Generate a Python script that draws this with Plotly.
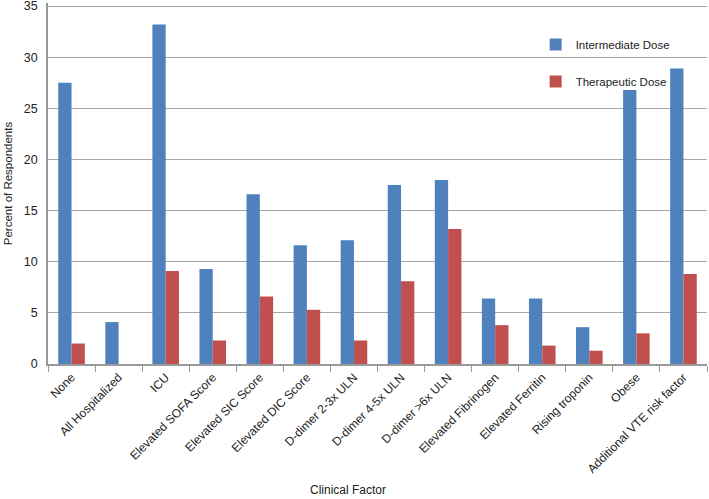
import plotly.graph_objects as go

categories = ["None", "All Hospitalized", "ICU", "Elevated SOFA Score", "Elevated SIC Score",
              "Elevated DIC Score", "D-dimer 2-3x ULN", "D-dimer 4-5x ULN", "D-dimer >6x ULN",
              "Elevated Fibrinogen", "Elevated Ferritin", "Rising troponin", "Obese",
              "Additional VTE risk factor"]
intermediate = [27.5, 4.1, 33.2, 9.3, 16.6, 11.6, 12.1, 17.5, 18.0, 6.4, 6.4, 3.6, 26.8, 28.9]
therapeutic = [2.0, 0.0, 9.1, 2.3, 6.6, 5.3, 2.3, 8.1, 13.2, 3.8, 1.8, 1.3, 3.0, 8.8]
y_ticks = [0, 5, 10, 15, 20, 25, 30, 35]

fig = go.Figure()
fig.add_trace(go.Bar(x=categories, y=intermediate, name="Intermediate Dose",
                     marker=dict(color="#4F81BD", line=dict(width=0)), legendgroup="a"))
fig.add_trace(go.Bar(x=categories, y=therapeutic, name="Therapeutic Dose",
                     marker=dict(color="#C0504D", line=dict(width=0)), legendgroup="b"))

fig.update_layout(
    width=709, height=499,
    margin=dict(l=48, r=2, t=3, b=135),
    paper_bgcolor="white", plot_bgcolor="white",
    font=dict(family="Liberation Sans, Arial, sans-serif", color="#222", size=12),
    barmode="group", bargap=0.435, bargroupgap=0,
    showlegend=True,
    legend=dict(x=0.740, y=0.925, xanchor="left", yanchor="top",
                font=dict(size=11.5), tracegroupgap=18, bgcolor="rgba(0,0,0,0)",
                itemwidth=30),
    xaxis=dict(showline=True, linecolor="#999", linewidth=1.5, automargin=False,
               ticks="outside", tickson="boundaries", ticklen=6, tickcolor="#999",
               tickangle=-45, tickfont=dict(size=12),
               showgrid=False),
    yaxis=dict(range=[0, 35.3], tickvals=y_ticks, showline=True, linecolor="#999", linewidth=1.5,
               automargin=False, ticklabeloverflow="allow", ticklabelstandoff=6,
               showgrid=True, gridcolor="#a6a6a6", gridwidth=1, ticks="", zeroline=False,
               tickfont=dict(size=12.5),
               title=dict(text="Percent of Respondents", font=dict(size=11.5), standoff=9)),
    annotations=[dict(text="Clinical Factor", xref="paper", yref="paper",
                      x=(348 - 48) / 659, y=-(490 - 364) / 361, xanchor="center", yanchor="middle",
                      showarrow=False, font=dict(size=12))],
)

fig.write_html("out.html", config={"displayModeBar": False},
               post_script="document.body.style.margin='0px';")
